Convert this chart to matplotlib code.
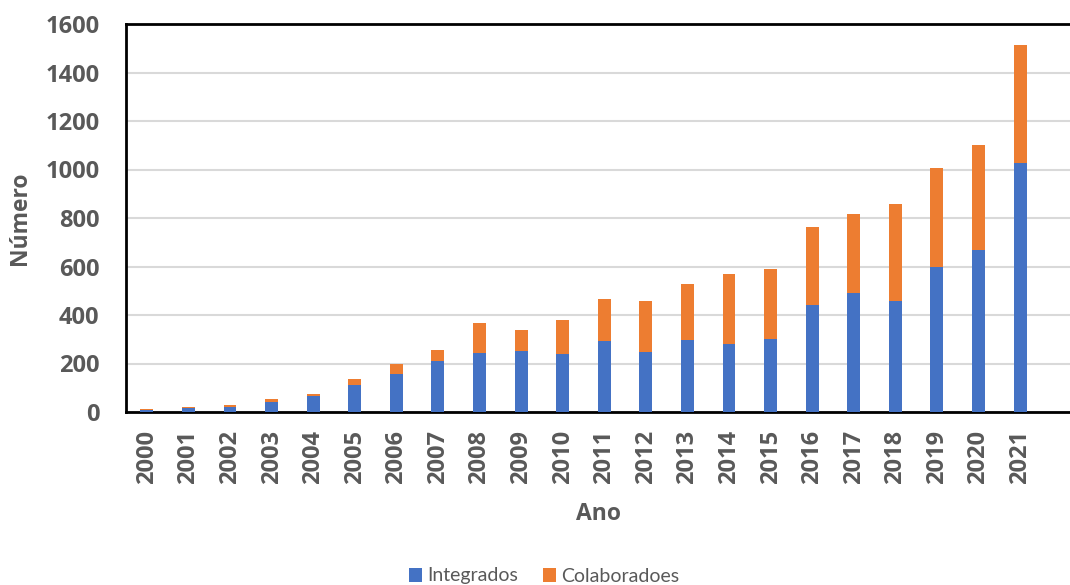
import numpy as np
import matplotlib.pyplot as plt

# Data
anos = [str(a) for a in range(2000, 2022)]
integrados = [10, 15, 22, 43, 66, 112, 158, 209, 245, 251, 238, 291, 246, 295,
              280, 300, 440, 489, 457, 600, 666, 1025]
totais = [13, 19, 27, 55, 73, 138, 199, 257, 368, 337, 381, 467, 456, 529,
          568, 591, 763, 818, 859, 1006, 1101, 1512]
colaboradoes = [t - i for t, i in zip(totais, integrados)]

azul = '#4472C4'
laranja = '#ED7D31'
cinza = '#595959'

plt.rcParams['font.family'] = ['Open Sans', 'DejaVu Sans']

fig = plt.figure(figsize=(10.7, 5.85), dpi=100)
ax = fig.add_axes([126 / 1070, 1 - 412 / 585, 1 - 126 / 1070, (412 - 24) / 585])

x = np.arange(len(anos))
ax.bar(x, integrados, width=0.31, color=azul, label='Integrados', zorder=3)
ax.bar(x, colaboradoes, width=0.31, bottom=integrados, color=laranja,
       label='Colaboradoes', zorder=3)

ax.set_xlim(-0.5, 22.2)
ax.set_ylim(0, 1600)
ax.set_yticks(range(0, 1601, 200))
ax.set_xticks(x)
ax.set_xticklabels(anos, rotation=90)

ax.grid(axis='y', color='#d9d9d9', linewidth=1.5, zorder=0)
for s in ['left', 'bottom', 'top']:
    ax.spines[s].set_linewidth(2)
    ax.spines[s].set_color('black')
ax.spines['right'].set_visible(False)

ax.tick_params(length=0)
for lbl in ax.get_xticklabels() + ax.get_yticklabels():
    lbl.set_fontweight('bold')
    lbl.set_fontsize(17)
    lbl.set_color(cinza)
ax.tick_params(axis='x', pad=13)
ax.tick_params(axis='y', pad=19)

ax.set_ylabel('Número', fontsize=16.5, fontweight='bold', color=cinza, labelpad=10)
ax.set_xlabel('Ano', fontsize=16.5, fontweight='bold', color=cinza, labelpad=13)

fig.legend(loc='center', bbox_to_anchor=(544 / 1070, 1 - 576 / 585), ncol=2,
           frameon=False, handlelength=0.7, handleheight=0.7, handletextpad=0.25,
           columnspacing=1.25, prop={'family': 'Lato', 'size': 14},
           labelcolor=cinza)

fig.savefig('out.png', dpi=100)
